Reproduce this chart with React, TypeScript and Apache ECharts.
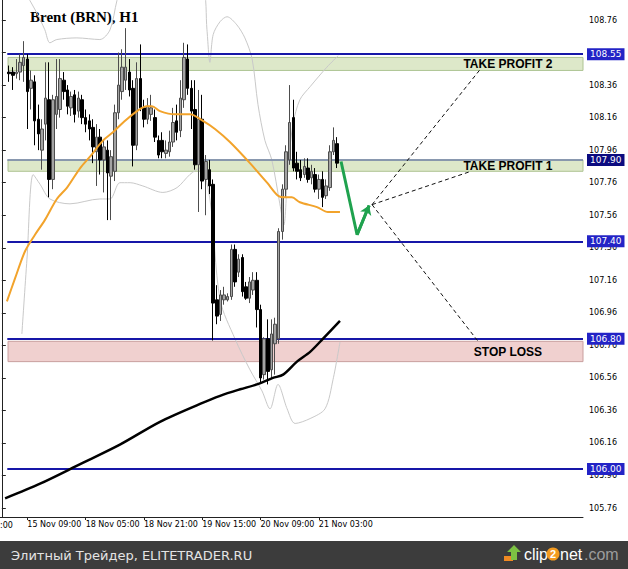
import React, { useEffect, useRef } from 'react';
import * as echarts from 'echarts';

const BAR_COUNT = 160;
const FIRST_BAR = 2;

const timeLabels = ['15 Nov 09:00', '18 Nov 05:00', '18 Nov 21:00', '19 Nov 15:00', '20 Nov 09:00', '21 Nov 03:00'];
const timeLabelBars = [7, 23, 39, 55, 71, 87];

const yTicks = [108.76, 108.56, 108.36, 108.16, 107.96, 107.76, 107.56, 107.36, 107.16, 106.96, 106.76, 106.56, 106.36, 106.16, 105.96, 105.76];
// tick label hidden under the 108.55 price box in the reference
const yLabelValues = [108.76, 108.36, 108.16, 107.96, 107.76, 107.56, 107.36, 107.16, 106.96, 106.76, 106.56, 106.36, 106.16, 105.96, 105.76];

// H1 candles, bar index 2 .. 92
const opens = [
  108.44, 108.44, 108.43, 108.44, 108.48, 108.52, 108.34, 108.38, 108.15, 107.96,
  108.12, 108.27, 107.78, 108.18, 108.21, 108.39, 108.33, 108.22, 108.30, 108.20,
  108.27, 108.16, 108.14, 108.10, 107.95, 108.04, 107.90, 107.96, 107.80, 107.83,
  108.19, 108.32, 108.39, 108.44, 108.34, 107.99, 108.40, 108.22, 108.15, 108.18,
  108.16, 108.02, 108.02, 107.94, 107.95, 108.01, 108.14, 108.08, 108.27, 108.52,
  108.34, 108.21, 107.87, 108.15, 107.78, 107.84, 107.75, 107.04, 106.95, 107.04,
  107.04, 107.06, 107.35, 107.21, 107.30, 107.12, 107.05, 107.10, 107.16, 106.98,
  106.58, 106.80, 106.61, 106.77, 106.80, 107.46, 107.72, 107.90, 108.16, 107.88,
  107.84, 107.81, 107.85, 107.79, 107.81, 107.72, 107.78, 107.68, 107.73, 107.95,
  108.00,
];
const closes = [
  108.43, 108.42, 108.44, 108.50, 108.53, 108.32, 108.39, 108.14, 108.06, 108.09,
  108.28, 107.78, 108.27, 108.29, 108.40, 108.32, 108.23, 108.29, 108.18, 108.28,
  108.16, 108.12, 108.09, 107.98, 108.04, 107.90, 107.98, 107.82, 107.92, 108.19,
  108.36, 108.47, 108.47, 108.33, 107.99, 108.40, 108.22, 108.15, 108.23, 108.22,
  108.04, 107.93, 107.95, 107.96, 108.01, 108.13, 108.07, 108.28, 108.53, 108.34,
  108.20, 107.87, 108.15, 107.77, 107.89, 107.74, 107.02, 106.94, 107.07, 107.07,
  107.06, 107.35, 107.15, 107.29, 107.09, 107.05, 107.15, 107.16, 106.98, 106.56,
  106.80, 106.60, 106.83, 106.89, 107.46, 107.72, 107.95, 108.13, 107.85, 107.83,
  107.79, 107.86, 107.78, 107.83, 107.72, 107.78, 107.67, 107.74, 107.95, 108.02,
  107.88,
];
const highs = [
  108.48, 108.47, 108.52, 108.55, 108.63, 108.55, 108.45, 108.42, 108.24, 108.15,
  108.50, 108.50, 108.30, 108.52, 108.52, 108.44, 108.36, 108.32, 108.33, 108.32,
  108.30, 108.21, 108.18, 108.15, 108.12, 108.09, 108.02, 108.02, 107.96, 108.24,
  108.56, 108.58, 108.71, 108.52, 108.39, 108.50, 108.61, 108.27, 108.28, 108.30,
  108.21, 108.05, 108.07, 108.02, 108.08, 108.22, 108.24, 108.39, 108.62, 108.61,
  108.39, 108.39, 108.33, 108.30, 107.93, 107.90, 107.78, 107.13, 107.10, 107.12,
  107.08, 107.38, 107.38, 107.32, 107.32, 107.15, 107.18, 107.21, 107.21, 107.01,
  106.81, 106.92, 106.92, 106.93, 107.48, 107.75, 107.99, 108.36, 108.27, 107.95,
  107.90, 107.91, 107.91, 107.87, 107.85, 107.81, 107.83, 107.78, 107.99, 108.10,
  108.04,
];
const lows = [
  108.38, 108.33, 108.40, 108.39, 108.38, 108.09, 108.21, 107.99, 107.96, 107.84,
  108.02, 107.67, 107.72, 108.09, 108.16, 108.27, 108.18, 108.17, 108.13, 108.16,
  108.12, 108.07, 108.02, 107.88, 107.74, 107.81, 107.70, 107.53, 107.53, 107.77,
  108.15, 108.27, 108.33, 108.29, 107.86, 107.96, 108.20, 108.10, 108.12, 108.14,
  108.01, 107.91, 107.91, 107.91, 107.92, 107.98, 108.02, 108.04, 108.22, 108.30,
  108.09, 107.84, 107.58, 107.72, 107.56, 107.69, 106.79, 106.89, 106.91, 107.01,
  107.03, 107.04, 107.12, 107.18, 107.06, 107.04, 107.02, 107.07, 106.87, 106.53,
  106.55, 106.52, 106.56, 106.58, 106.77, 107.41, 107.67, 107.87, 107.83, 107.78,
  107.77, 107.79, 107.76, 107.75, 107.70, 107.66, 107.61, 107.66, 107.71, 107.93,
  107.85,
];

// [bar index, price]
const orangeMA = [
  [1.4, 107.03], [3.6, 107.17], [6.4, 107.34], [9.1, 107.44], [11.8, 107.53], [15.1, 107.66],
  [17.9, 107.73], [21.5, 107.85], [24.2, 107.92], [27.8, 108.02], [30.5, 108.07], [33.3, 108.13],
  [37.1, 108.2], [39.8, 108.23], [41.2, 108.23], [43.4, 108.2], [47.5, 108.18], [51.6, 108.18],
  [55.2, 108.14], [58.5, 108.09], [62.6, 108.01], [68.1, 107.88], [72.8, 107.76], [75.8, 107.68],
  [77.7, 107.67], [79.6, 107.67], [81.8, 107.64], [86.5, 107.61], [89.5, 107.58], [92.8, 107.58],
];
const blackMA = [
  [0.9, 105.82], [10.5, 105.91], [21.5, 106.03], [32.4, 106.15], [43.4, 106.29], [54.4, 106.4],
  [59.9, 106.45], [65.4, 106.49], [70, 106.52], [74.4, 106.56], [77.2, 106.58], [81, 106.66],
  [84.6, 106.72], [88.1, 106.8], [92.8, 106.91],
];
const bbUpper = [
  [6.6, 108.93], [7.7, 108.88], [9.7, 108.8], [11.8, 108.7], [13.2, 108.62], [15.1, 108.64],
  [20.6, 108.65], [26.9, 108.64], [29.7, 108.7], [31.6, 108.88], [33, 108.97], [43.4, 109.13],
  [55.2, 108.97], [56.3, 108.7], [57.1, 108.5], [58, 108.67], [59.9, 108.75], [61.8, 108.78],
  [64.5, 108.73], [66.7, 108.65], [68.7, 108.52], [70.3, 108.24], [72.2, 108.02], [74.1, 107.9],
  [76.3, 107.63], [77.4, 107.5], [78.5, 107.84], [79.9, 108.12], [81.8, 108.27], [84.6, 108.35],
  [89.2, 108.47], [92.3, 108.54],
];
const bbLower = [
  [5.5, 106.83], [6.9, 107.29], [8.6, 107.81], [10.5, 107.75], [13.2, 107.66], [18.7, 107.63],
  [26.9, 107.66], [29.7, 107.66], [32.4, 107.76], [35.2, 107.76], [38.7, 107.74], [44.2, 107.7],
  [48.1, 107.73], [51.6, 107.81], [54.4, 107.85], [57.1, 107.66], [59.9, 107.04], [64, 106.8],
  [68.1, 106.61], [71.4, 106.48], [73.6, 106.37], [75.8, 106.52], [78.3, 106.37], [80.5, 106.28],
  [84.6, 106.31], [88.7, 106.37], [90.9, 106.55], [92.8, 106.78],
];

const levelPrices = [108.55, 107.9, 107.4, 106.8, 106.0];
const tp2Band = [108.53, 108.45];
const tp1Band = [107.9, 107.83];
const slBand = [106.785, 106.66];

const forecastPath = [[93.1, 107.89], [97.5, 107.44], [100.8, 107.62]];
const targetOrigin = [101.6, 107.625];
const targetEnds = [[131.2, 108.454], [128.5, 107.828], [130.7, 106.785]];
const targetNames = ['TAKE PROFIT 2', 'TAKE PROFIT 1', 'STOP LOSS'];
const targetLabelAt = [[138.9, 108.49], [138.9, 107.86], [138.9, 106.72]];

const AXIS_FONT = 'DejaVu Sans';

function buildOption(): any {
  const categories = Array.from({ length: BAR_COUNT }, (_, i) => {
    const k = timeLabelBars.indexOf(i);
    return k >= 0 ? timeLabels[k] : '';
  });
  const candleData = Array.from({ length: BAR_COUNT }, (_, i) => {
    const k = i - FIRST_BAR;
    return k >= 0 && k < opens.length ? [opens[k], closes[k], lows[k], highs[k]] : ['-', '-', '-', '-'];
  });
  const showAt = (i: number) => timeLabelBars.indexOf(i) >= 0;
  const bandStart = 1.7;
  const bandEnd = BAR_COUNT - 0.5;
  const lineBase = { type: 'line', xAxisIndex: 1, yAxisIndex: 0, showSymbol: false, symbol: 'none', silent: true };

  return {
    animation: false,
    backgroundColor: '#ffffff',
    grid: { left: 0, right: 45, top: 0, bottom: 52, containLabel: false },
    xAxis: [
      {
        type: 'category',
        data: categories,
        boundaryGap: true,
        axisLine: { show: true, lineStyle: { color: '#222', width: 1 } },
        axisTick: { show: true, interval: showAt, alignWithLabel: true, length: 3, lineStyle: { color: '#222' } },
        axisLabel: {
          interval: showAt, align: 'left', fontSize: 8, fontFamily: AXIS_FONT, color: '#000', margin: 3,
        },
        splitLine: { show: false },
      },
      { type: 'value', min: -0.5, max: BAR_COUNT - 0.5, show: false },
    ],
    yAxis: {
      type: 'value',
      position: 'right',
      min: 105.705,
      max: 108.883,
      scale: true,
      axisLine: { show: true, lineStyle: { color: '#222', width: 1 } },
      axisTick: { show: true, customValues: yTicks, length: 4, lineStyle: { color: '#222' } },
      axisLabel: {
        customValues: yLabelValues, formatter: (v: number) => v.toFixed(2), fontSize: 8, fontFamily: AXIS_FONT,
        color: '#000', margin: 6,
      },
      splitLine: { show: false },
    },
    series: [
      {
        ...lineBase,
        name: 'zones',
        z: 1,
        data: [],
        markArea: {
          silent: true,
          data: [
            [{ coord: [bandStart, tp2Band[0]], itemStyle: { color: '#dde8c9', borderColor: '#aec493', borderWidth: 1 } }, { coord: [bandEnd, tp2Band[1]] }],
            [{ coord: [bandStart, tp1Band[0]], itemStyle: { color: '#dde8c9', borderColor: '#aec493', borderWidth: 1 } }, { coord: [bandEnd, tp1Band[1]] }],
            [{ coord: [bandStart, slBand[0]], itemStyle: { color: '#f0d0cf', borderColor: '#c99f9e', borderWidth: 1 } }, { coord: [bandEnd, slBand[1]] }],
          ],
        },
      },
      { ...lineBase, name: 'bbUpper', z: 3, data: bbUpper, smooth: 0.3, lineStyle: { color: '#c9c9c9', width: 1 } },
      { ...lineBase, name: 'bbLower', z: 3, data: bbLower, smooth: 0.3, lineStyle: { color: '#c9c9c9', width: 1 } },
      {
        type: 'candlestick',
        name: 'Brent',
        xAxisIndex: 0,
        yAxisIndex: 0,
        z: 5,
        barWidth: 3,
        data: candleData,
        itemStyle: { color: '#a3a3a3', color0: '#000000', borderColor: '#4d4d4d', borderColor0: '#000000', borderWidth: 1 },
      },
      { ...lineBase, name: 'maFast', z: 6, data: orangeMA, smooth: 0.3, lineStyle: { color: '#f2a32b', width: 2 } },
      { ...lineBase, name: 'maSlow', z: 6, data: blackMA, smooth: 0.3, lineStyle: { color: '#000000', width: 2.5 } },
      {
        ...lineBase,
        name: 'levels',
        z: 7,
        data: [],
        markLine: {
          silent: true,
          symbol: ['none', 'none'],
          data: levelPrices.map((v, k) => [
            {
              coord: [1.5, v],
              lineStyle: { color: k === 1 ? '#7282aa' : '#1717a8', width: k === 1 ? 1.5 : 2, type: 'solid' },
              label: {
                show: true, position: 'end', formatter: v.toFixed(2), color: '#ffffff',
                backgroundColor: k === 1 ? '#0b0b80' : '#2323c6', padding: [2, 3, 1, 3],
                fontSize: 9, fontFamily: AXIS_FONT, distance: 4,
              },
            },
            { coord: [BAR_COUNT - 0.5, v] },
          ]),
        },
      },
      {
        ...lineBase,
        name: 'targets',
        z: 8,
        data: [],
        markLine: {
          silent: true,
          symbol: ['none', 'none'],
          lineStyle: { color: '#111', width: 1, type: [4, 3] },
          label: { show: false },
          data: targetEnds.map((e) => [{ coord: targetOrigin }, { coord: e }]),
        },
        markPoint: {
          silent: true,
          symbol: 'rect',
          symbolSize: 1,
          itemStyle: { color: 'rgba(0,0,0,0)' },
          label: {
            show: true, position: 'inside', color: '#000', fontWeight: 'bold', fontSize: 12,
            fontFamily: 'Liberation Sans', formatter: '{b}',
          },
          data: targetNames.map((n, k) => ({ name: n, coord: targetLabelAt[k] })),
        },
      },
      {
        ...lineBase,
        name: 'forecast',
        z: 9,
        data: forecastPath,
        lineStyle: { color: '#1fa24e', width: 3 },
        markLine: {
          silent: true,
          symbol: ['none', 'arrow'],
          symbolSize: 9,
          lineStyle: { color: '#1fa24e', width: 3, type: 'solid' },
          label: { show: false },
          data: [[{ coord: forecastPath[1] }, { coord: forecastPath[2] }]],
        },
      },
    ],
    graphic: [
      { type: 'text', x: 30, y: 17, style: { text: 'Brent (BRN), H1', font: 'bold 15px "Liberation Serif"', fill: '#000', verticalAlign: 'middle' } },
      { type: 'text', x: 0, y: 525, style: { text: ':00', font: '8px "DejaVu Sans"', fill: '#000', verticalAlign: 'middle' } },
      { type: 'rect', shape: { x: 0, y: 541, width: 628, height: 28 }, style: { fill: '#3c3c3c' } },
      { type: 'text', x: 11, y: 555, style: { text: 'Элитный Трейдер, ELITETRADER.RU', font: '13px "DejaVu Sans"', fill: '#e4e4e4', verticalAlign: 'middle' } },
      { type: 'rect', shape: { x: 504, y: 556, width: 9, height: 5 }, style: { fill: '#f08a22' } },
      { type: 'polygon', shape: { points: [[514, 545], [521, 552], [517, 552], [517, 560], [511, 560], [511, 552], [507, 552]] }, style: { fill: '#7dc243' } },
      { type: 'text', x: 524, y: 554, style: { text: 'clip', font: '16px "Liberation Sans"', fill: '#ffffff', verticalAlign: 'middle' } },
      { type: 'circle', shape: { cx: 553, cy: 554, r: 6.5 }, style: { fill: '#f39a1f' } },
      { type: 'text', x: 553, y: 554, style: { text: '2', font: 'bold 11px "Liberation Sans"', fill: '#ffffff', align: 'center', verticalAlign: 'middle' } },
      { type: 'text', x: 560, y: 554, style: { text: 'net', font: '16px "Liberation Sans"', fill: '#ffffff', verticalAlign: 'middle' } },
      { type: 'text', x: 584, y: 554, style: { text: '.com', font: '16px "Liberation Sans"', fill: '#9c9c9c', verticalAlign: 'middle' } },
    ],
  };
}

export default function App() {
  const ref = useRef<HTMLDivElement>(null);
  useEffect(() => {
    if (!ref.current) return;
    const chart = echarts.init(ref.current, null, { renderer: 'svg' });
    chart.setOption(buildOption());
    return () => chart.dispose();
  }, []);
  return (
    <div
      ref={ref}
      style={{ position: 'absolute', left: 0, top: 0, width: 628, height: 569, background: '#ffffff' }}
    />
  );
}
